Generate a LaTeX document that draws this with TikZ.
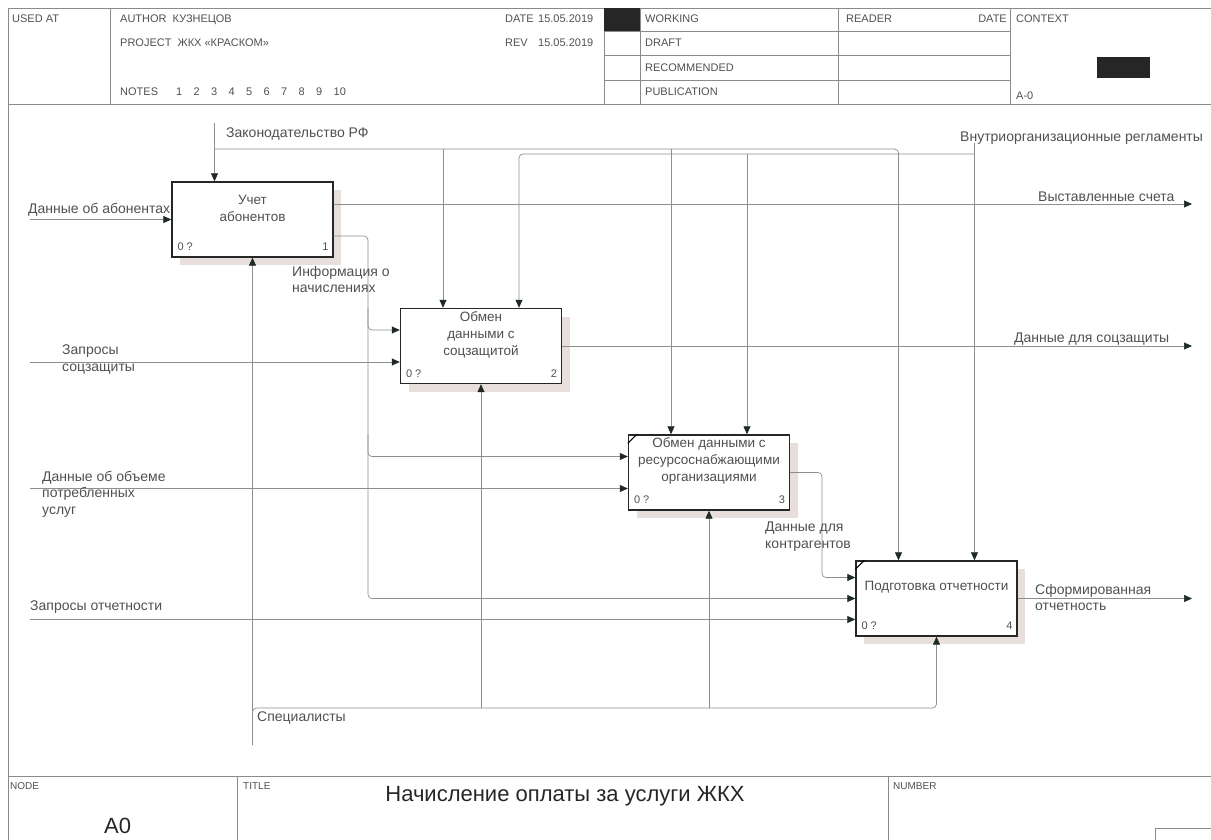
\documentclass[tikz,border=0pt]{standalone}
\usepackage{fontspec}
\setmainfont{Liberation Sans}
\usetikzlibrary{arrows.meta, positioning, calc, shadows}
\definecolor{ink}{HTML}{505050}
\definecolor{wirec}{HTML}{8E8E8E}
\definecolor{tipc}{HTML}{1E2A22}
\definecolor{shadowc}{HTML}{E8DEDB}
\definecolor{framec}{HTML}{8A8A8A}
\tikzset{
  rule/.style={draw=framec, line width=0.6pt},
  func/.style={draw=black!85, fill=white, line width=1.4pt, minimum width=161pt,
               minimum height=75pt, inner sep=0pt,
               drop shadow={shadow xshift=8pt, shadow yshift=-8pt, fill=shadowc, opacity=1}},
  ftext/.style={font=\fontsize{13.5}{17}\selectfont, text=ink, align=center, inner sep=0pt},
  lbl/.style={font=\fontsize{14}{16.5}\selectfont, text=ink, align=left, inner sep=0pt},
  hdr/.style={font=\fontsize{11}{14}\selectfont, text=ink, inner sep=0pt, anchor=base west},
  num/.style={font=\fontsize{11}{13}\selectfont, text=ink, inner sep=0pt},
  arr/.style={draw=wirec, line width=0.7pt, rounded corners=4pt,
              -{Triangle[length=8pt, width=7pt, color=tipc]}},
}

\begin{document}
\begin{tikzpicture}[x=1pt, y=-1pt]
\useasboundingbox (0,0) rectangle (1211,840);

% ---------------- frame ----------------
\draw[rule] (8,840) -- (8,8) -- (1211,8);
\draw[rule] (8,104) -- (1211,104);
\draw[rule] (8,776) -- (1211,776);
\foreach \x in {110,604,640,838,1010} \draw[rule] (\x,8) -- (\x,104);
\foreach \y in {31,55,80} \draw[rule] (604,\y) -- (1010,\y);
\foreach \x in {237,888} \draw[rule] (\x,776) -- (\x,840);
\draw[rule] (1155,840) -- (1155,828) -- (1211,828);
\fill[black!85] (604,8) rectangle (640,31);
\fill[black!85] (1097,57) rectangle (1150,78);

% ---------------- header ----------------
\node[hdr] (usedat) at (12,23) {USED AT};
\node[hdr] (author) at (120,23) {AUTHOR\ \ КУЗНЕЦОВ};
\node[hdr] (project) at (120,47) {PROJECT\ \ ЖКХ «КРАСКОМ»};
\node[hdr] (notes) at (120,96) {NOTES};
\foreach \i in {1,...,10}
  \node[hdr] (note\i) at (158.5+17.5*\i,96) {\i};
\node[hdr] (date) at (505,23) {DATE};
\node[hdr] (dateval) at (538,23) {15.05.2019};
\node[hdr] (rev) at (505,47) {REV};
\node[hdr] (revval) at (538,47) {15.05.2019};
\node[hdr] (working) at (645,23) {WORKING};
\node[hdr] (draft) at (645,47) {DRAFT};
\node[hdr] (recom) at (645,72) {RECOMMENDED};
\node[hdr] (publ) at (645,96) {PUBLICATION};
\node[hdr] (reader) at (846,23) {READER};
\node[hdr, anchor=base east] (rdate) at (1007,23) {DATE};
\node[hdr] (context) at (1016,23) {CONTEXT};
\node[hdr] (ctxnode) at (1016,100) {A-0};

% ---------------- functions ----------------
\node[func] (b1) at (252.5,219.5) {};
\node[func] (b2) at (481,346) {};
\node[func] (b3) at (709,472.5) {};
\node[func] (b4) at (936.5,598.5) {};
\node[ftext] (t1) at ([yshift=-27pt]b1.north) {Учет\\абонентов};
\node[ftext] (t2) at ([yshift=-27pt]b2.north) {Обмен\\данными с\\соцзащитой};
\node[ftext] (t3) at ([yshift=-27pt]b3.north) {Обмен данными с\\ресурсоснабжающими\\организациями};
\node[ftext] (t4) at ([yshift=-27pt]b4.north) {Подготовка отчетности};
\foreach \b/\n in {b1/1,b2/2,b3/3,b4/4} {
  \node[num, anchor=base west] (\b cost) at ([shift={(6pt,7pt)}]\b.south west) {0 ?};
  \node[num, anchor=base east] (\b num) at ([shift={(-5pt,7pt)}]\b.south east) {\n};
  \coordinate (\b c1) at ([xshift=-38pt]\b.north);
  \coordinate (\b c2) at ([xshift=38pt]\b.north);
  \coordinate (\b i1) at ([yshift=16pt]\b.west);
  \coordinate (\b i2) at ([yshift=-16pt]\b.west);
}
\foreach \b in {b3,b4}
  \draw[line width=1.1pt] ([yshift=-9pt]\b.north west) -- ([xshift=9pt]\b.north west);
\coordinate (b1o1) at ([yshift=15.5pt]b1.east);
\coordinate (b1o2) at ([yshift=-16.5pt]b1.east);
\coordinate (b4i1) at ([yshift=21pt]b4.west);
\coordinate (b4i3) at ([yshift=-21pt]b4.west);
\coordinate (lft) at (30,0);
\coordinate (rgt) at (1192,0);

% ---------------- controls ----------------
\coordinate (lawsrc) at (b1c1 |- 0,123);
\coordinate (lawbus) at (b1c1 |- 0,149);
\draw[arr] (lawsrc) -- (b1c1);
\draw[arr] (lawbus) -| (b4c1);
\draw[arr] (b2c1 |- lawbus) -- (b2c1);
\draw[arr] (b3c1 |- lawbus) -- (b3c1);
\coordinate (regsrc) at (b4c2 |- 0,143);
\coordinate (regbus) at (b4c2 |- 0,154);
\draw[arr] (regsrc) -- (b4c2);
\draw[arr] (regbus) -| (b2c2);
\draw[arr] (b3c2 |- regbus) -- (b3c2);
\node[lbl, anchor=base west] (lawlbl) at (226,138) {Законодательство РФ};
\node[lbl, anchor=base west] (reglbl) at (960,142) {Внутриорганизационные регламенты};

% ---------------- inputs ----------------
\draw[arr] (b1.west -| lft) -- (b1.west);
\draw[arr] (b2i2 -| lft) -- (b2i2);
\draw[arr] (b3i2 -| lft) -- (b3i2);
\draw[arr] (b4i3 -| lft) -- (b4i3);
\node[lbl, anchor=base west] (ablbl) at (28,214) {Данные об абонентах};
\node[lbl, anchor=north west] (sreqlbl) at (62,345) {Запросы\\соцзащиты};
\node[lbl, anchor=north west] (uselbl) at (42,471) {Данные об объеме\\потребленных\\услуг};
\node[lbl, anchor=base west] (rreqlbl) at (30,610) {Запросы отчетности};

% ---------------- outputs ----------------
\coordinate (infox) at (368,0);
\coordinate (ctrx) at (822,0);
\draw[arr] (b1o1) -- (b1o1 -| rgt);
\draw[arr] (b1o2) -| (infox |- b4.west) -- (b4.west);
\draw[arr] (infox |- b2.north) |- (b2i1);
\draw[arr] (infox |- b3.north) |- (b3i1);
\draw[arr] (b2.east) -- (b2.east -| rgt);
\draw[arr] (b3.east) -| (ctrx |- b4i1) -- (b4i1);
\draw[arr] (b4.east) -- (b4.east -| rgt);
\node[lbl, anchor=base west] (billlbl) at (1038,201) {Выставленные счета};
\node[lbl, anchor=north west] (infolbl) at (292,266) {Информация о\\начислениях};
\node[lbl, anchor=base west] (soclbl) at (1014,342) {Данные для соцзащиты};
\node[lbl, anchor=north west] (ctrlbl) at (765,522) {Данные для\\контрагентов};
\node[lbl, anchor=north west] (replbl) at (1035,584) {Сформированная\\отчетность};

% ---------------- mechanisms ----------------
\coordinate (specsrc) at (b1.south |- 0,745);
\coordinate (specbus) at (b1.south |- 0,708);
\draw[arr] (specsrc) -- (b1.south);
\draw[arr] (specsrc) |- (b4.south |- specbus) -- (b4.south);
\draw[arr] (b2.south |- specbus) -- (b2.south);
\draw[arr] (b3.south |- specbus) -- (b3.south);
\node[lbl, anchor=base west] (speclbl) at (257,721) {Специалисты};

% ---------------- footer ----------------
\node[hdr, font=\fontsize{10}{12}\selectfont] (nodelbl) at (10,789) {NODE};
\node[hdr, font=\fontsize{10}{12}\selectfont] (titlelbl) at (243,789) {TITLE};
\node[hdr, font=\fontsize{10}{12}\selectfont] (numlbl) at (893,789) {NUMBER};
\node[hdr, anchor=base, font=\fontsize{22}{26}\selectfont, text=black!85] (title) at (565,801) {Начисление оплаты за услуги ЖКХ};
\node[hdr, font=\fontsize{22}{26}\selectfont, text=black!85] (nodeno) at (104,833) {A0};

\end{tikzpicture}
\end{document}
